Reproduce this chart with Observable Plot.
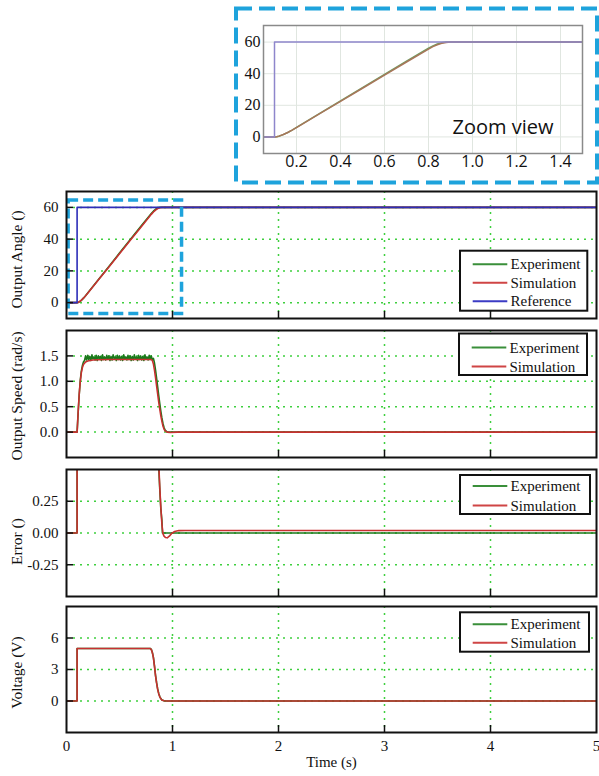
<!DOCTYPE html>
<html><head><meta charset="utf-8">
<script src="https://cdn.jsdelivr.net/npm/d3@7"></script>
<script src="https://cdn.jsdelivr.net/npm/@observablehq/plot@0.6"></script>
<style>
body{margin:0;background:#fff;}
#root{position:relative;width:599px;height:776px;overflow:hidden;background:#fff;}
</style></head><body><div id="root"></div>
<script>
// ---------------- data ----------------
const timeTicks = [0, 1, 2, 3, 4, 5];
const gridTimes = [1, 2, 3, 4];
const angleTicks = [0, 20, 40, 60];
const speedTicks = [0, 0.5, 1.0, 1.5];
const speedTickLabels = ["0.0", "0.5", "1.0", "1.5"];
const errorTicks = [-0.25, 0, 0.25];
const errorTickLabels = ["-0.25", "0.00", "0.25"];
const voltTicks = [0, 3, 6];
const zoomTicks = [0.2, 0.4, 0.6, 0.8, 1.0, 1.2, 1.4];
const zoomTickLabels = ["0.2", "0.4", "0.6", "0.8", "1.0", "1.2", "1.4"];
const seriesNames = ["Experiment", "Simulation", "Reference"];
const yLabels = ["Output Angle ()", "Output Speed (rad/s)", "Error ()", "Voltage (V)"];
const xLabel = "Time (s)";
const zoomLabel = "Zoom view";

// Output angle (deg)
const angleTime = [0, 0.1, 0.11, 0.12, 0.14, 0.16, 0.18, 0.2, 0.3, 0.4, 0.5, 0.6, 0.7, 0.8, 0.82, 0.84, 0.86, 0.88, 0.9, 1.0, 5];
const angleSim  = [0, 0, 0.15, 0.5, 1.5, 2.8, 4.3, 5.9, 14.2, 22.5, 30.8, 39.1, 47.4, 55.6, 57.1, 58.3, 59.2, 59.8, 60, 60, 60];
const angleExp  = [0, 0, 0.1, 0.45, 1.45, 2.8, 4.35, 6.0, 14.4, 22.8, 31.2, 39.6, 48.0, 56.1, 57.6, 58.8, 59.6, 60, 60, 60, 60];
const refTime = [0, 0.1, 0.1, 5];
const refAngle = [0, 0, 60, 60];
// zoomed window drawn on the main angle panel
const zoomWindow = [{x1: 0.02, x2: 1.09, y1: -7.1, y2: 64.3}];

// Output speed (rad/s)
const speedSimTime = [0, 0.1, 0.11, 0.12, 0.13, 0.14, 0.15, 0.16, 0.18, 0.2, 0.25, 0.3, 0.4, 0.5, 0.6, 0.7, 0.8, 0.81, 0.82, 0.83, 0.84, 0.85, 0.86, 0.87, 0.88, 0.89, 0.9, 0.91, 0.92, 0.93, 0.95, 0.98, 1.05, 5];
const speedSim = [0, 0, 0.4, 0.75, 1.0, 1.17, 1.27, 1.33, 1.38, 1.40, 1.42, 1.425, 1.43, 1.43, 1.43, 1.43, 1.43, 1.41, 1.34, 1.22, 1.07, 0.91, 0.75, 0.59, 0.45, 0.32, 0.21, 0.12, 0.06, 0.025, 0.0, -0.008, 0.0, 0];
const speedExpRiseTime = [0, 0.1, 0.11, 0.12, 0.13, 0.14, 0.15, 0.16];
const speedExpRise = [0, 0, 0.38, 0.74, 1.02, 1.2, 1.31, 1.38];
const speedExpPlateauTime = [
  0.17,0.18,0.19,0.20,0.21,0.22,0.23,0.24,0.25,0.26,
  0.27,0.28,0.29,0.30,0.31,0.32,0.33,0.34,0.35,0.36,
  0.37,0.38,0.39,0.40,0.41,0.42,0.43,0.44,0.45,0.46,
  0.47,0.48,0.49,0.50,0.51,0.52,0.53,0.54,0.55,0.56,
  0.57,0.58,0.59,0.60,0.61,0.62,0.63,0.64,0.65,0.66,
  0.67,0.68,0.69,0.70,0.71,0.72,0.73,0.74,0.75,0.76,
  0.77,0.78,0.79,0.80,0.81];
const speedExpPlateau = [
  1.41,1.50,1.42,1.51,1.43,1.49,1.41,1.52,1.44,1.48,
  1.42,1.51,1.41,1.50,1.45,1.49,1.41,1.52,1.43,1.48,
  1.42,1.51,1.44,1.50,1.41,1.49,1.42,1.52,1.45,1.48,
  1.41,1.51,1.43,1.50,1.42,1.49,1.41,1.52,1.44,1.48,
  1.42,1.51,1.43,1.50,1.41,1.49,1.42,1.52,1.44,1.48,
  1.41,1.51,1.43,1.50,1.42,1.49,1.41,1.52,1.44,1.48,
  1.42,1.51,1.43,1.50,1.42];
const speedExpFallTime = [0.82, 0.83, 0.84, 0.85, 0.86, 0.87, 0.88, 0.89, 0.9, 0.91, 0.92, 0.93, 0.95, 1.0, 5];
const speedExpFall = [1.45, 1.36, 1.22, 1.06, 0.89, 0.72, 0.56, 0.41, 0.28, 0.17, 0.09, 0.04, 0.0, 0.0, 0];

// Error (deg)
const errSimTime = [0, 0.1, 0.1, 0.3, 0.5, 0.7, 0.8, 0.84, 0.86, 0.87, 0.88, 0.89, 0.9, 0.91, 0.92, 0.935, 0.95, 0.97, 0.99, 1.02, 1.06, 1.12, 5];
const errSim = [0, 0, 60, 45.8, 29.2, 12.6, 4.4, 1.7, 0.8, 0.55, 0.36, 0.2, 0.07, -0.005, -0.025, -0.036, -0.038, -0.025, -0.005, 0.012, 0.019, 0.02, 0.02];
const errExpTime = [0, 0.1, 0.1, 0.3, 0.5, 0.7, 0.8, 0.84, 0.86, 0.87, 0.88, 0.89, 0.9, 0.905, 5];
const errExp = [0, 0, 60, 45.6, 28.8, 12.0, 3.9, 1.3, 0.75, 0.52, 0.34, 0.19, 0.1, 0, 0];

// Voltage (V)
const voltTime = [0, 0.1, 0.1, 0.79, 0.8, 0.81, 0.82, 0.83, 0.84, 0.85, 0.86, 0.87, 0.88, 0.89, 0.9, 0.92, 0.95, 5];
const voltSim = [0, 0, 5, 5, 4.9, 4.6, 4.1, 3.3, 2.4, 1.7, 1.1, 0.7, 0.4, 0.22, 0.1, 0.02, 0, 0];
const voltExp = [0, 0, 5, 5, 4.92, 4.62, 4.15, 3.35, 2.45, 1.75, 1.15, 0.72, 0.42, 0.23, 0.1, 0.02, 0, 0];

// ---------------- styling ----------------
const EXP = "#1b781b", SIM = "#c83030", REF = "#2e2eb8";
const EXP_L = "#3a8f3a", SIM_L = "#cf4545", REF_L = "#3b3bc4";
const EXP_I = "#6f9f62", SIM_I = "#a8765a", REF_I = "#8e86cc";
const GRID = "#3fcf3f", CYAN = "#1ea3dc";
const SERIF = "'Liberation Serif','Times New Roman',serif";
const W = 599, ML = 66, MR = 3, MT = 5;

const rows = (ts, vs) => ts.map((t, i) => ({t, v: vs[i]}));
const root = document.getElementById("root");
function place(node, left, top) {
  node.style.position = "absolute";
  node.style.left = left + "px";
  node.style.top = top + "px";
  root.appendChild(node);
}

function panel({top, frameH, mb, yDomain, ticks, tickLabels, series, extra = [], xAxis = false}) {
  const fmt = d => tickLabels[ticks.indexOf(d)];
  const marks = [
    Plot.ruleX(gridTimes, {stroke: GRID, strokeWidth: 1.5, strokeDasharray: "2,5"}),
    Plot.ruleY(ticks, {stroke: GRID, strokeWidth: 1.5, strokeDasharray: "2,5"}),
    ...series.map(s => Plot.line(s.data, {x: "t", y: "v", stroke: s.color, strokeWidth: s.width || 1.6, clip: true})),
    ...extra,
    Plot.frame({stroke: "#111", strokeWidth: 2}),
    Plot.ruleX(gridTimes, {stroke: "#111", strokeWidth: 1.5, insetTop: frameH - 7}),
    Plot.ruleY(ticks, {stroke: "#111", strokeWidth: 1.5, insetRight: W - ML - MR - 7}),
    Plot.axisY(ticks, {tickSize: 0, tickPadding: 8, tickFormat: fmt, label: null, fontSize: 15})
  ];
  if (xAxis) {
    marks.push(Plot.axisX(timeTicks, {tickSize: 0, tickPadding: 8, tickFormat: d => String(d), label: null, fontSize: 15}));
    marks.push(Plot.text([xLabel], {frameAnchor: "bottom", dy: 34, fontSize: 15, text: d => d}));
  }
  const svg = Plot.plot({
    width: W, height: MT + frameH + mb,
    marginLeft: ML, marginRight: MR, marginTop: MT, marginBottom: mb,
    style: {fontFamily: SERIF, fontSize: "15px", background: "transparent", color: "#111", overflow: "visible"},
    x: {domain: [0, 5], axis: xAxis ? undefined : null},
    y: {domain: yDomain},
    marks
  });
  place(svg, 0, top - MT);
}

// Panel 1: angle
panel({
  top: 191, frameH: 127, mb: 5, yDomain: [-10, 70], ticks: angleTicks, tickLabels: angleTicks.map(String),
  series: [
    {data: rows(angleTime, angleExp), color: EXP},
    {data: rows(angleTime, angleSim), color: SIM},
    {data: rows(refTime, refAngle), color: REF}
  ],
  extra: [Plot.rect(zoomWindow, {x1: "x1", x2: "x2", y1: "y1", y2: "y2", fill: "none", stroke: CYAN, strokeWidth: 3.5, strokeDasharray: "10,5"})]
});
// Panel 2: speed
panel({
  top: 329.7, frameH: 127, mb: 5, yDomain: [-0.5, 2], ticks: speedTicks, tickLabels: speedTickLabels,
  series: [
    {data: rows(speedExpRiseTime.concat(speedExpPlateauTime, speedExpFallTime), speedExpRise.concat(speedExpPlateau, speedExpFall)), color: EXP, width: 1.6},
    {data: rows(speedSimTime, speedSim), color: SIM}
  ]
});
// Panel 3: error
panel({
  top: 469, frameH: 127, mb: 5, yDomain: [-0.5, 0.5], ticks: errorTicks, tickLabels: errorTickLabels,
  series: [
    {data: rows(errExpTime, errExp), color: EXP},
    {data: rows(errSimTime, errSim), color: SIM}
  ]
});
// Panel 4: voltage
panel({
  top: 606, frameH: 126, mb: 44, yDomain: [-3, 9], ticks: voltTicks, tickLabels: voltTicks.map(String),
  series: [
    {data: rows(voltTime, voltExp), color: EXP},
    {data: rows(voltTime, voltSim), color: SIM}
  ],
  xAxis: true
});

// Zoom inset
const inset = Plot.plot({
  width: W, height: 183,
  marginLeft: 263, marginRight: 17, marginTop: 25, marginBottom: 30,
  style: {fontFamily: SERIF, fontSize: "16px", background: "transparent", color: "#111"},
  x: {domain: [0.05, 1.5]},
  y: {domain: [-10.5, 70.5]},
  marks: [
    Plot.ruleX(zoomTicks, {stroke: "#e0e6e0", strokeWidth: 1}),
    Plot.ruleY(angleTicks, {stroke: "#e0e6e0", strokeWidth: 1}),
    Plot.line(rows(angleTime, angleExp), {x: "t", y: "v", stroke: EXP_I, strokeWidth: 1.5, clip: true}),
    Plot.line(rows(angleTime, angleSim), {x: "t", y: "v", stroke: SIM_I, strokeWidth: 1.5, clip: true}),
    Plot.line(rows(refTime, refAngle), {x: "t", y: "v", stroke: REF_I, strokeWidth: 1.5, clip: true}),
    Plot.frame({stroke: "#8a8a8a", strokeWidth: 1.5}),
    Plot.axisY(angleTicks, {tickSize: 0, tickPadding: 3, label: null, fontSize: 16}),
    Plot.axisX(zoomTicks, {tickSize: 0, tickPadding: 2, label: null, fontSize: 16, fontFamily: "'Open Sans',sans-serif",
      tickFormat: d => zoomTickLabels[zoomTicks.indexOf(d)]}),
    Plot.text([zoomLabel], {frameAnchor: "bottom-right", dx: -29, dy: -20, textAnchor: "end", fontSize: 20,
      fontFamily: "'Open Sans',sans-serif", fill: "#111", text: d => d})
  ]
});
place(inset, 0, 0);

// Overlay: inset dashed border, rotated axis titles and legends
const ov = d3.create("svg").attr("width", W).attr("height", 776)
  .style("position", "absolute").style("left", "0px").style("top", "0px");
ov.append("rect").attr("x", 236).attr("y", 8.5).attr("width", 361).attr("height", 174)
  .attr("fill", "none").attr("stroke", CYAN).attr("stroke-width", 4).attr("stroke-dasharray", "16 7");

const titleCenters = [259.5, 396, 541.5, 672.5];
yLabels.forEach((lab, i) => {
  ov.append("text").attr("transform", `translate(16.5,${titleCenters[i]}) rotate(-90)`)
    .attr("text-anchor", "middle").attr("dominant-baseline", "central")
    .attr("font-family", SERIF).attr("font-size", 15.5).attr("fill", "#111").text(lab);
});

const legendColors = [EXP_L, SIM_L, REF_L];
const legendBoxes = [
  {x: 460, y: 250.7, w: 127.3, h: 60, rows: [13.5, 32, 50.5]},
  {x: 459, y: 333.5, w: 128, h: 41.5, rows: [14, 33]},
  {x: 460, y: 475, w: 130, h: 39, rows: [11, 30.5]},
  {x: 460, y: 612.3, w: 129, h: 39.4, rows: [12, 30.5]}
];
legendBoxes.forEach(b => {
  const g = ov.append("g").attr("transform", `translate(${b.x},${b.y})`);
  g.append("rect").attr("width", b.w).attr("height", b.h).attr("fill", "#fff").attr("stroke", "#111").attr("stroke-width", 2);
  b.rows.forEach((ry, i) => {
    g.append("line").attr("x1", 12.7).attr("x2", 47.3).attr("y1", ry).attr("y2", ry)
      .attr("stroke", legendColors[i]).attr("stroke-width", 2);
    g.append("text").attr("x", 50.5).attr("y", ry).attr("dominant-baseline", "central")
      .attr("font-family", SERIF).attr("font-size", 15).attr("fill", "#111").text(seriesNames[i]);
  });
});
root.appendChild(ov.node());
</script>
</body></html>
